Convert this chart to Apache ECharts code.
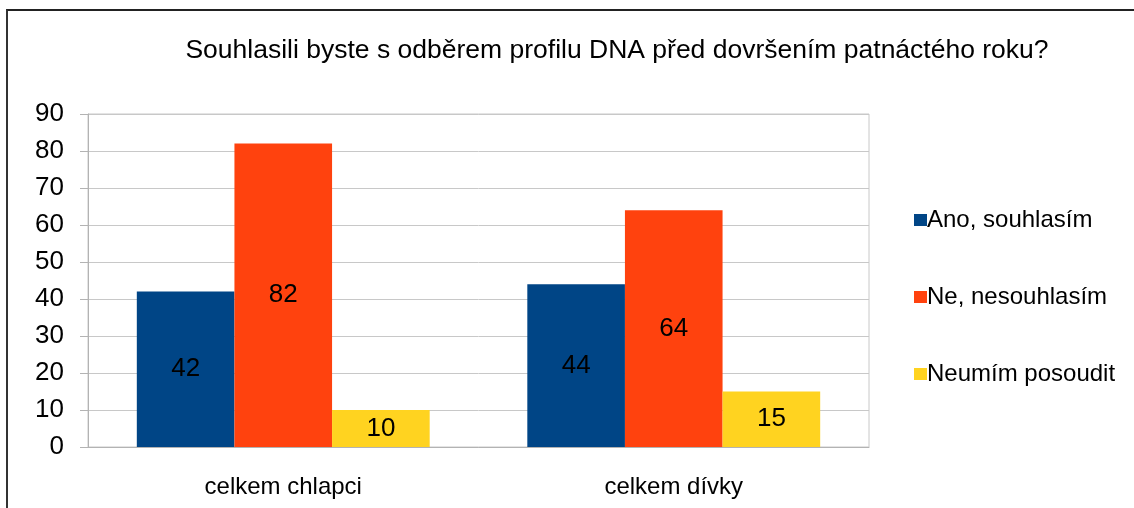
<!DOCTYPE html>
<html>
<head>
<meta charset="utf-8">
<script src="https://cdn.jsdelivr.net/npm/echarts@6/dist/echarts.min.js"></script>
<style>
  html, body { margin: 0; padding: 0; background: #fff; }
  #frame { position: absolute; left: 6px; top: 9px; width: 1200px; height: 600px;
           border-left: 2px solid #333; border-top: 2px solid #222; }
  #chart { position: absolute; left: 0; top: 0; width: 1134px; height: 508px; }
</style>
</head>
<body>
<div id="frame"></div>
<div id="chart"></div>
<script>
  // data
  let categories = ['celkem chlapci', 'celkem dívky']
  let seriesNames = ['Ano, souhlasím', 'Ne, nesouhlasím', 'Neumím posoudit']
  let anoData = [42, 44]
  let neData = [82, 64]
  let neumimData = [10, 15]
  let colors = ['#004586', '#ff420e', '#ffd320']

  let myChart = echarts.init(document.getElementById('chart'))
  let font = 'Liberation Sans, Arial, sans-serif'
  let labelStyle = {
    show: true,
    position: 'inside',
    color: '#000',
    fontSize: 26,
    fontFamily: font
  }

  let option = {
    animation: false,
    textStyle: { fontFamily: font },
    title: {
      text: 'Souhlasili byste s odběrem profilu DNA před dovršením patnáctého roku?',
      left: 612,
      textAlign: 'center',
      top: 32,
      textStyle: { fontSize: 26.5, fontWeight: 'normal', color: '#000', fontFamily: font }
    },
    legend: {
      orient: 'vertical',
      left: 909,
      top: 203,
      itemWidth: 13,
      itemHeight: 12,
      itemGap: 53,
      icon: 'rect',
      textStyle: { fontSize: 24, color: '#000', fontFamily: font, padding: [0, 0, 0, -5] },
      data: seriesNames
    },
    grid: {
      left: 88,
      right: 265,
      top: 114,
      bottom: 61,
      show: true,
      borderColor: '#c8c8c8',
      borderWidth: 1
    },
    xAxis: {
      type: 'category',
      data: categories,
      axisLine: { lineStyle: { color: '#b3b3b3' } },
      axisTick: { length: 8, lineStyle: { color: '#b3b3b3' } },
      axisLabel: { color: '#000', fontSize: 24, margin: 28, fontFamily: font }
    },
    yAxis: {
      type: 'value',
      min: 0,
      max: 90,
      interval: 10,
      axisLine: { show: true, lineStyle: { color: '#b3b3b3' } },
      axisTick: { show: true, length: 8, lineStyle: { color: '#b3b3b3' } },
      axisLabel: { color: '#000', fontSize: 26, margin: 24, fontFamily: font },
      splitLine: { lineStyle: { color: '#c8c8c8' } }
    },
    series: [
      {
        name: seriesNames[0], type: 'bar', data: anoData,
        itemStyle: { color: colors[0] }, label: labelStyle,
        barGap: '0%', barCategoryGap: '25%'
      },
      {
        name: seriesNames[1], type: 'bar', data: neData,
        itemStyle: { color: colors[1] }, label: labelStyle
      },
      {
        name: seriesNames[2], type: 'bar', data: neumimData,
        itemStyle: { color: colors[2] }, label: labelStyle
      }
    ]
  }
  option && myChart.setOption(option)
</script>
</body>
</html>
